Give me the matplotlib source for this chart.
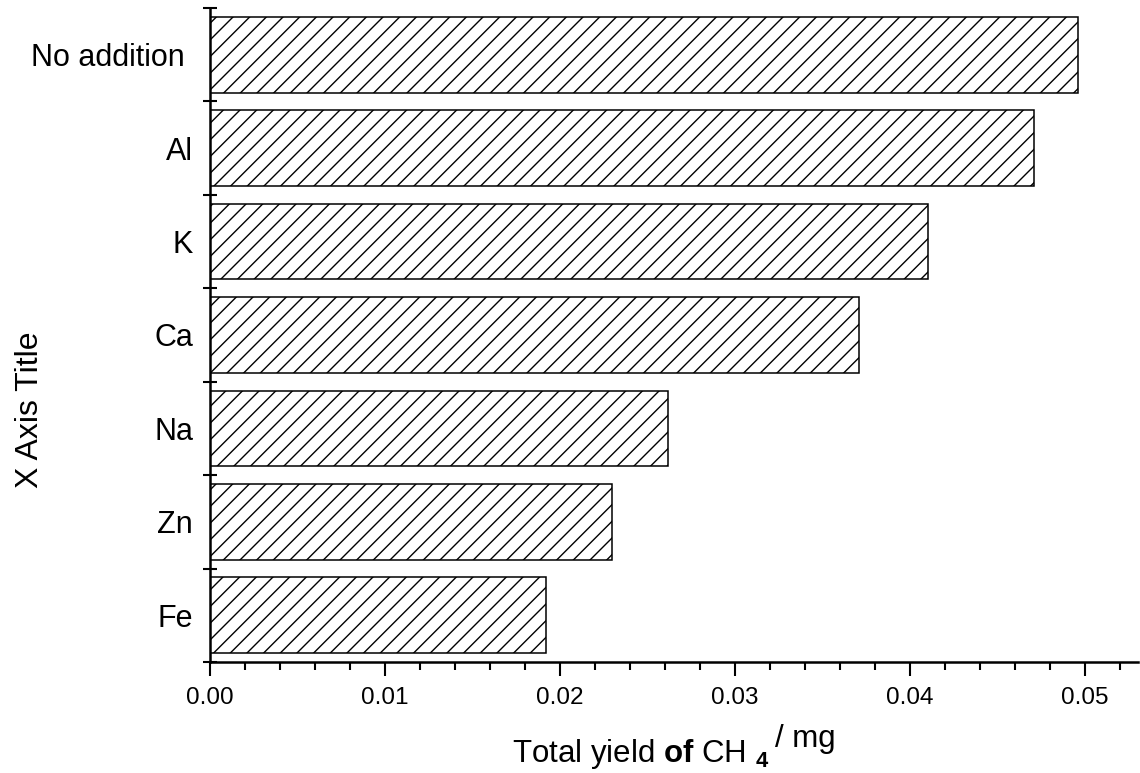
import numpy as np
import matplotlib
matplotlib.use('Agg')
import matplotlib.pyplot as plt
from matplotlib.ticker import MultipleLocator, FixedLocator

plt.rcParams['font.family'] = ['Liberation Sans', 'DejaVu Sans']
plt.rcParams['mathtext.fontset'] = 'custom'
plt.rcParams['mathtext.rm'] = 'Liberation Sans'
plt.rcParams['mathtext.bf'] = 'Liberation Sans:bold'
plt.rcParams['hatch.linewidth'] = 1.0

# данные (снизу вверх)
categories = ['Fe', 'Zn', 'Na', 'Ca', 'K', 'Al', 'No addition ']
yields = [0.0192, 0.0230, 0.0262, 0.0371, 0.0410, 0.0471, 0.0496]
x_ticks = [0.00, 0.01, 0.02, 0.03, 0.04, 0.05]

fig = plt.figure(figsize=(11.4, 7.73), dpi=100)
ax = fig.add_axes([0.184, 0.1436, 0.814, 0.8461])

pos = np.arange(len(categories))
ax.barh(pos, yields, height=0.81, color='white', edgecolor='black',
        linewidth=1.1, hatch='//')

ax.set_ylim(-0.5, len(categories) - 0.5)
ax.set_xlim(0, 0.053)

ax.spines['top'].set_visible(False)
ax.spines['right'].set_visible(False)
ax.spines['left'].set_linewidth(1.8)
ax.spines['bottom'].set_linewidth(1.8)

# y: подписи в центрах, засечки на границах
ax.set_yticks(pos)
ax.set_yticklabels(categories, fontsize=22)
ax.tick_params(axis='y', which='major', length=0, pad=12)
ax.yaxis.set_minor_locator(FixedLocator(np.arange(-0.5, len(categories), 1.0)))
ax.tick_params(axis='y', which='minor', direction='inout', length=10, width=1.5)

# x
ax.xaxis.set_major_locator(FixedLocator(x_ticks))
ax.set_xticklabels(['%.2f' % v for v in x_ticks], fontsize=17.5)
ax.xaxis.set_minor_locator(MultipleLocator(0.002))
ax.tick_params(axis='x', which='major', direction='out', length=10, width=1.5, pad=8)
ax.tick_params(axis='x', which='minor', direction='out', length=6, width=1.5)

xl = ax.set_xlabel(r'Total yield $\mathbf{of}$ CH $_{\mathbf{4}}$', fontsize=22.5, labelpad=20)
ax.xaxis.label.set_x(0.464)
ax.annotate('/ mg', xy=(1, 0), xycoords=xl, xytext=(4, 12), textcoords='offset points',
            fontsize=22.5, ha='left', va='bottom')

ax.set_ylabel('X Axis Title', fontsize=23)
ax.yaxis.set_label_coords(-0.178, 0.385)

plt.savefig('out.png', dpi=100)
